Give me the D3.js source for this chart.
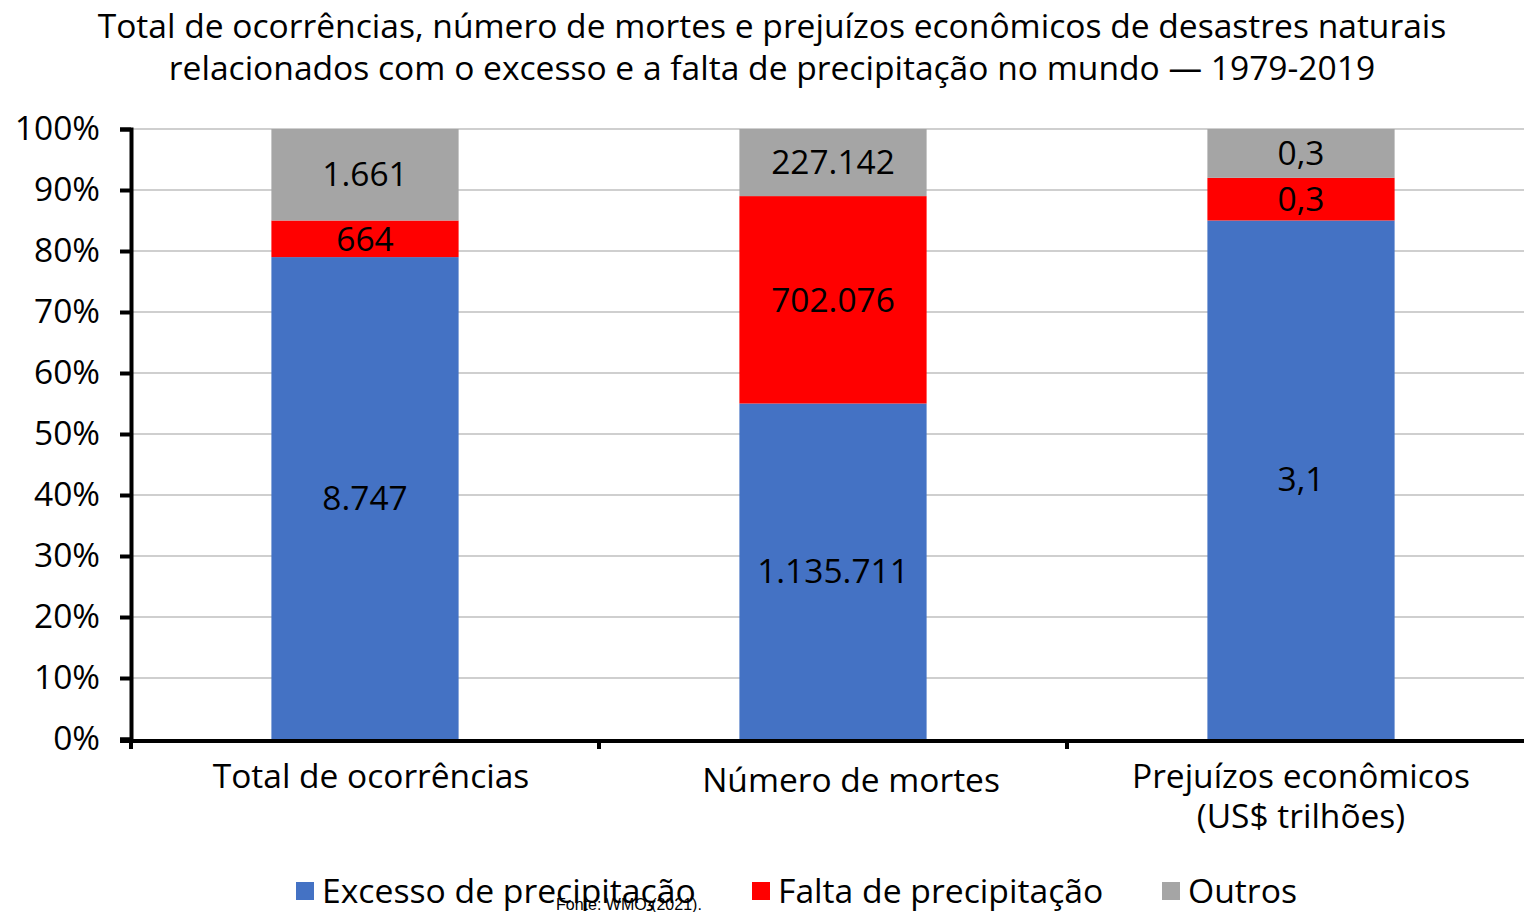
<!DOCTYPE html>
<html lang="pt">
<head>
<meta charset="utf-8">
<title>Desastres naturais e precipitação</title>
<script src="https://d3js.org/d3.v7.min.js"></script>
<style>
  body { margin: 0; background: #fff; }
  text { font-family: "Open Sans", "Noto Sans", sans-serif; fill: #000; }
</style>
</head>
<body>
<script>
// data
var categories = ["Total de ocorrências", "Número de mortes", "Prejuízos econômicos\n(US$ trilhões)"];
var series = ["Excesso de precipitação", "Falta de precipitação", "Outros"];
var colors = ["#4472C4", "#FF0000", "#A5A5A5"];
// values printed on the bars
var valExcesso = [8747, 1135711, 3.1];
var valFalta = [664, 702076, 0.3];
var valOutros = [1661, 227142, 0.3];
// share of each bar, in %
var shareExcesso = [79, 55, 85];
var shareFalta = [6, 34, 7];
var shareOutros = [15, 11, 8];
var yTicks = [0, 10, 20, 30, 40, 50, 60, 70, 80, 90, 100];
var titleLines = ["Total de ocorrências, número de mortes e prejuízos econômicos de desastres naturais",
                  "relacionados com o excesso e a falta de precipitação no mundo — 1979-2019"];
var fonte = "Fonte: WMO (2021).";

var w = 1524, h = 912;
var svg = d3.select("body").append("svg").attr("width", w).attr("height", h);

var ptBR = d3.formatLocale({decimal: ",", thousands: ".", grouping: [3], currency: ["R$", ""]});
var fmt = [ptBR.format(",d"), ptBR.format(",d"), ptBR.format(",.1f")];

var rows = categories.map(function(c, i) {
  return {cat: c, i: i,
    "Excesso de precipitação": shareExcesso[i],
    "Falta de precipitação": shareFalta[i],
    "Outros": shareOutros[i],
    vals: [valExcesso[i], valFalta[i], valOutros[i]]};
});

var x = d3.scaleBand().domain(categories).range([131, 1535]).paddingInner(0.6).paddingOuter(0.3);
var y = d3.scaleLinear().domain([0, 100]).range([739, 129]);

// gridlines
svg.append("g").selectAll("line").data(yTicks.slice(1)).enter().append("line")
  .attr("x1", 131).attr("x2", w)
  .attr("y1", function(d) { return y(d); }).attr("y2", function(d) { return y(d); })
  .attr("stroke", "#cfcfcf").attr("stroke-width", 2);

// stacked bars
var stack = d3.stack().keys(series);
var layers = stack(rows);
var g = svg.append("g").selectAll("g").data(layers).enter().append("g")
  .attr("fill", function(d, k) { return colors[k]; });
g.selectAll("rect").data(function(d) { return d; }).enter().append("rect")
  .attr("x", function(d) { return x(d.data.cat); })
  .attr("width", x.bandwidth())
  .attr("y", function(d) { return y(d[1]); })
  .attr("height", function(d) { return y(d[0]) - y(d[1]); });

// value labels
layers.forEach(function(layer, k) {
  svg.append("g").selectAll("text").data(layer).enter().append("text")
    .attr("x", function(d) { return x(d.data.cat) + x.bandwidth() / 2; })
    .attr("y", function(d) { return (y(d[0]) + y(d[1])) / 2; })
    .attr("dy", "0.35em")
    .attr("text-anchor", "middle")
    .style("font-size", "33.5px")
    .text(function(d) { return fmt[d.data.i](d.data.vals[k]); });
});

// y axis
var yAxis = svg.append("g").attr("transform", "translate(131,0)")
  .call(d3.axisLeft(y).tickValues(yTicks).tickFormat(function(d) { return d + "%"; }).tickSize(11).tickPadding(20));
yAxis.select(".domain").attr("stroke", "#000").attr("stroke-width", 4);
yAxis.selectAll(".tick line").attr("stroke", "#000").attr("stroke-width", 4);
yAxis.selectAll(".tick text").style("font-size", "33.5px").style("font-family", "'Open Sans', sans-serif").attr("fill", "#000");

// x axis
var x0 = x.range()[0], step = x.step();
svg.append("line").attr("x1", 120).attr("x2", w).attr("y1", 741).attr("y2", 741)
  .attr("stroke", "#000").attr("stroke-width", 4);
svg.append("g").selectAll("line").data(d3.range(3)).enter().append("line")
  .attr("x1", function(i) { return x0 + i * step; }).attr("x2", function(i) { return x0 + i * step; })
  .attr("y1", 741).attr("y2", 749).attr("stroke", "#000").attr("stroke-width", 4);

// category labels sit a little off the bar centre in the original
var labShift = [[6, 0], [18, 4], [0, 0]];
var catLab = svg.append("g").selectAll("text").data(categories).enter().append("text")
  .attr("x", function(d, i) { return x(d) + x.bandwidth() / 2 + labShift[i][0]; })
  .attr("y", function(d, i) { return 788 + labShift[i][1]; })
  .attr("text-anchor", "middle")
  .style("font-size", "33.5px");
catLab.each(function(d) {
  var t = d3.select(this);
  d.split("\n").forEach(function(line, j) {
    t.append("tspan").attr("x", t.attr("x")).attr("dy", j ? 40 : 0).text(line);
  });
});

// title
svg.append("g").selectAll("text").data(titleLines).enter().append("text")
  .attr("x", 772).attr("y", function(d, i) { return 38 + i * 42; })
  .attr("text-anchor", "middle")
  .style("font-size", "33.6px")
  .text(function(d) { return d; });

// legend
var legX = [296, 752, 1162];
var leg = svg.append("g").selectAll("g").data(series).enter().append("g")
  .attr("transform", function(d, i) { return "translate(" + legX[i] + ",882)"; });
leg.append("rect").attr("width", 18).attr("height", 18).attr("fill", function(d, i) { return colors[i]; });
leg.append("text").attr("x", 26).attr("y", 9).attr("dy", "0.35em").style("font-size", "33.7px")
  .text(function(d) { return d; });

svg.append("text").attr("x", 556).attr("y", 910)
  .style("font-family", "'Liberation Sans', Arial, sans-serif").style("font-size", "16px")
  .text(fonte);
</script>
</body>
</html>
